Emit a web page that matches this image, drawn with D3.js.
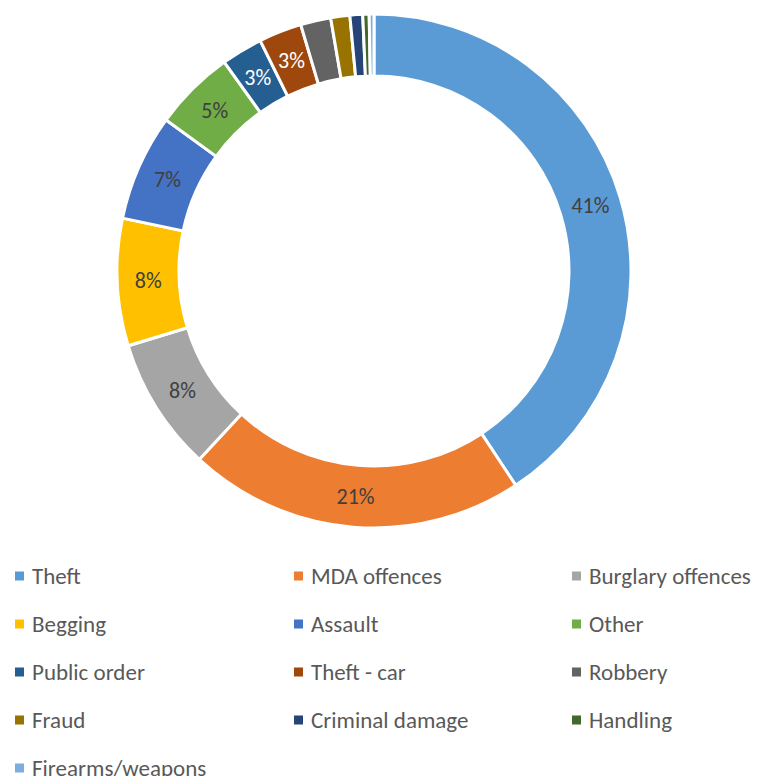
<!DOCTYPE html>
<html><head><meta charset="utf-8">
<script src="https://cdn.jsdelivr.net/npm/d3@7"></script>
<style>body{margin:0;background:#fff;} svg{display:block;}</style>
</head><body>
<svg id="chart" width="762" height="776"></svg>
<script>
const categories = ["Theft","MDA offences","Burglary offences","Begging","Assault","Other","Public order","Theft - car","Robbery","Fraud","Criminal damage","Handling","Firearms/weapons"];
const values = [40.7,21.2,8.4,8.0,6.7,5.1,2.6,2.7,1.9,1.2,0.8,0.4,0.3];
const colors = ["#5B9BD5","#ED7D31","#A5A5A5","#FFC000","#4472C4","#70AD47","#255E91","#9E480E","#636363","#997300","#264478","#43682B","#7CAFDD"];
const labelColors = ["#404040","#404040","#404040","#404040","#404040","#404040","#ffffff","#ffffff","#404040","#404040","#404040","#404040","#404040"];

const svg = d3.select("#chart");
const font = "Calibri, Carlito, Lato, sans-serif";
const cx = 374, cy = 271, rOut = 257, rIn = 195;
const data = categories.map((c,i)=>({cat:c, value:values[i], color:colors[i], lc:labelColors[i]}));
const total = d3.sum(values);
const pie = d3.pie().value(d=>d.value).sort(null);
const arc = d3.arc().innerRadius(rIn).outerRadius(rOut);
const g = svg.append("g").attr("transform",`translate(${cx},${cy})`);
const arcs = pie(data);
g.selectAll("path").data(arcs).join("path")
  .attr("d",arc).attr("fill",d=>d.data.color)
  .attr("stroke","#fff").attr("stroke-width",3).attr("stroke-linejoin","miter");
g.selectAll("text").data(arcs.filter(d=>Math.round(d.data.value/total*100)>=3)).join("text")
  .attr("transform",d=>`translate(${arc.centroid(d)})`)
  .attr("text-anchor","middle").attr("dominant-baseline","central")
  .attr("font-family",font).attr("font-size",22)
  .attr("fill",d=>d.data.lc)
  .text(d=>Math.round(d.data.value/total*100)+"%");

const colX = [14, 293, 571], rowY0 = 576, rowH = 48;
const leg = svg.append("g");
data.forEach((d,i)=>{
  const x = colX[i%3], y = rowY0 + Math.floor(i/3)*rowH;
  leg.append("rect").attr("x",x+1).attr("y",y-4.5).attr("width",9).attr("height",9).attr("fill",d.color);
  leg.append("text").attr("x",x+18).attr("y",y).attr("dominant-baseline","central")
    .attr("font-family",font).attr("font-size",23).attr("fill","#595959").text(d.cat);
});
</script>
</body></html>
